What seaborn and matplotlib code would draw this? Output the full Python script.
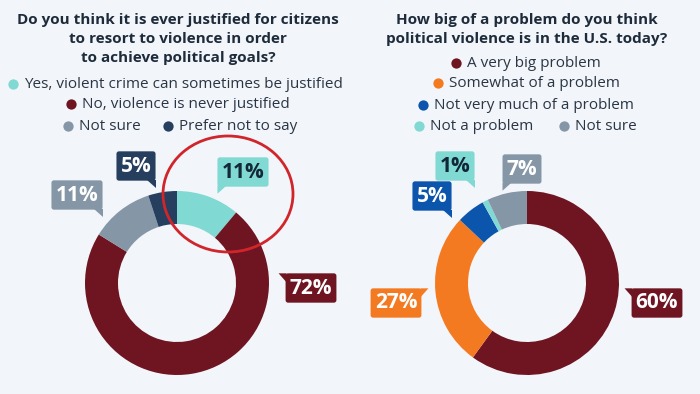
import numpy as np
import matplotlib
matplotlib.use("Agg")
import matplotlib.pyplot as plt
from matplotlib.patches import Ellipse, Polygon
import seaborn as sns

# --- data ---
q1_title = "Do you think it is ever justified for citizens\nto resort to violence in order\nto achieve political goals?"
q1_labels = ["Yes, violent crime can sometimes be justified", "No, violence is never justified",
             "Not sure", "Prefer not to say"]
q1_values = [11, 72, 11, 5]

q2_title = "How big of a problem do you think\npolitical violence is in the U.S. today?"
q2_labels = ["A very big problem", "Somewhat of a problem", "Not very much of a problem",
             "Not a problem", "Not sure"]
q2_values = [60, 27, 5, 1, 7]

# --- styling ---
MAROON = "#6e1521"
TEAL = "#80d9d2"
GREY = "#8596a7"
NAVY = "#263f5f"
ORANGE = "#f47a22"
BLUE = "#0c55ad"
BG = "#f2f5f9"
DARK = "#1e2b3b"
q1_colors = [TEAL, MAROON, GREY, NAVY]
q2_colors = [MAROON, ORANGE, BLUE, TEAL, GREY]

sns.set_style("white")
plt.rcParams['font.family'] = ['Open Sans', 'DejaVu Sans']

fig = plt.figure(figsize=(7, 3.94), dpi=100, facecolor=BG)
ax = fig.add_axes([0, 0, 1, 1])
ax.set_facecolor(BG)
H = 394

R, W = 92, 33
centers = [(177, H - 283), (527, H - 283)]

for vals, cols, c in [(q1_values, q1_colors, centers[0]), (q2_values, q2_colors, centers[1])]:
    ax.pie(vals, colors=cols, startangle=90, counterclock=False, radius=R, center=c,
           wedgeprops=dict(width=W, linewidth=0))

ax.set_xlim(0, 700)
ax.set_ylim(0, H)
ax.set_aspect("equal")
ax.axis("off")

# titles
ax.text(178, H - 13, q1_title, ha="center", va="top", fontsize=11, fontweight="bold",
        color=DARK, linespacing=1.45)
ax.text(527, H - 13, q2_title, ha="center", va="top", fontsize=11, fontweight="bold",
        color=DARK, linespacing=1.45)

# legends: (dot x, row y, label, color)
leg1 = [(13, 84, q1_labels[0], TEAL), (71, 104, q1_labels[1], MAROON),
        (68, 126, q1_labels[2], GREY), (168, 126, q1_labels[3], NAVY)]
leg2 = [(456, 63, q2_labels[0], MAROON), (438, 83, q2_labels[1], ORANGE),
        (423, 105, q2_labels[2], BLUE), (419, 126, q2_labels[3], TEAL), (564, 126, q2_labels[4], GREY)]
for x, y, lab, col in leg1 + leg2:
    ax.scatter([x], [H - y], s=55, color=col, linewidths=0, zorder=3)
    ax.text(x + 11, H - y, lab, ha="left", va="center", fontsize=11, color="#2a3645")

# callouts: (center x, center y, text, color, text color, tail)
callouts = [
    (77, 195, "11%", GREY, "white", "br"),
    (136, 166, "5%", NAVY, "white", "br"),
    (243, 172, "11%", TEAL, "#13273a", "bl"),
    (311, 288, "72%", MAROON, "white", "lt"),
    (522, 169, "7%", GREY, "white", "bl"),
    (455, 166, "1%", TEAL, "#13273a", "br"),
    (432, 196, "5%", BLUE, "white", "br"),
    (396, 303, "27%", ORANGE, "white", "rt"),
    (657, 303, "60%", MAROON, "white", "lt"),
]
texts = []
for x, y, txt, col, tcol, tail in callouts:
    t = ax.text(x, H - y, txt, ha="center", va="center", fontsize=15, fontweight="bold", color=tcol,
                bbox=dict(boxstyle="round,pad=0.2,rounding_size=0.12", fc=col, ec="none"), zorder=5)
    texts.append((t, col, tail))

fig.canvas.draw()
r = fig.canvas.get_renderer()
for t, col, tail in texts:
    bb = t.get_bbox_patch().get_window_extent(r)
    x0, x1, y0, y1 = bb.x0, bb.x1, bb.y0, bb.y1
    if tail == "br":
        pts = [(x1 - 9, y0 + 1), (x1, y0 + 1), (x1, y0 - 7)]
    elif tail == "bl":
        pts = [(x0, y0 + 1), (x0 + 9, y0 + 1), (x0, y0 - 7)]
    elif tail == "lt":
        pts = [(x0 + 1, y1), (x0 + 1, y1 - 9), (x0 - 7, y1)]
    else:
        pts = [(x1 - 1, y1), (x1 - 1, y1 - 9), (x1 + 7, y1)]
    ax.add_patch(Polygon(pts, closed=True, fc=col, ec="none", zorder=5))

# red highlight circle
ax.add_patch(Ellipse((228, H - 194), 130, 116, fill=False, ec="#d0262b", lw=2, zorder=6))

fig.savefig("out.png", dpi=100, facecolor=BG)
